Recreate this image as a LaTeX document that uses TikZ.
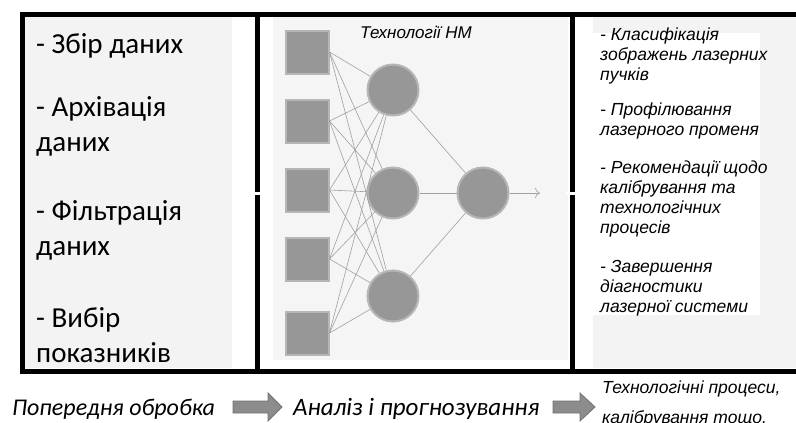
\documentclass[tikz,border=0pt]{standalone}
\usepackage{fontspec}
\setmainfont{Carlito}
\newfontfamily\arialfont{Liberation Sans}
\usetikzlibrary{positioning, arrows.meta}

\definecolor{panelgray}{HTML}{F3F3F3}
\definecolor{midgray}{HTML}{F5F5F5}
\definecolor{unitgray}{HTML}{979797}
\definecolor{unitedge}{HTML}{B6B6B6}
\definecolor{wiregray}{HTML}{A0A0A0}
\definecolor{arrowgray}{HTML}{8C8C8C}

\tikzset{
    frame/.style={line width=5pt},
    inbox/.style={rectangle, minimum size=43pt, inner sep=0pt, fill=unitgray, draw=unitedge, line width=2pt},
    hidbox/.style={circle, minimum size=51pt, inner sep=0pt, fill=unitgray, draw=unitedge, line width=2pt},
    wire/.style={wiregray, line width=0.6pt},
    leftitem/.style={anchor=base west, align=left, inner sep=0pt, font=\fontsize{29}{35}\selectfont},
    rightitem/.style={anchor=base west, align=left, inner sep=0pt, font=\arialfont\itshape\fontsize{17.5}{20}\selectfont},
    blockarr/.style={fill=arrowgray, draw=arrowgray!80!black, line width=0.8pt}
}

\begin{document}
\begin{tikzpicture}[x=1pt, y=-1pt]
        \useasboundingbox (0,0) rectangle (796,423);

        % Draw the panel backgrounds
        \fill[panelgray] (24,16) rectangle (232,368);
        \fill[midgray] (273,17) rectangle (568,360);
        \fill[panelgray] (593,16) rectangle (796,368);
        \fill[white] (593,33) rectangle (760,315);

        % Draw the frame and the two dividers
        \draw[frame] (796,14) -- (22,14) -- (22,371) -- (796,371);
        \draw[frame] (257,14) -- (257,371);
        \draw[frame] (572,14) -- (572,371);
        \foreach \x in {257, 572} {
            \draw[white, line width=3pt] ({\x-6},193) -- ({\x+6},193);
        }

        % Left panel: preprocessing steps (placed at the baseline of the last line)
        \node[leftitem] (l1) at (36,53) {- Збір даних};
        \node[leftitem] (l2) at (36,151) {- Архівація\\даних};
        \node[leftitem] (l3) at (36,255) {- Фільтрація\\даних};
        \node[leftitem] (l4) at (36,362) {- Вибір\\показників};

        % Middle panel: the network
        \node[font=\arialfont\itshape\fontsize{17}{20}\selectfont, anchor=base] (nmtitle) at (416,38) {Технології НМ};
        \foreach \i/\y in {1/52, 2/121, 3/190, 4/259, 5/333} {
            \node[inbox] (in\i) at (307,\y) {};
        }
        \foreach \j/\y in {1/90, 2/193, 3/296} {
            \node[hidbox] (h\j) at (393,\y) {};
        }
        \node[hidbox] (out) at (483,193) {};
        \coordinate (res) at (540,193);

        \foreach \i in {1,...,5} {
            \foreach \j in {1,2,3} {
                \draw[wire] (in\i.east) -- (h\j);
            }
        }
        \foreach \j in {1,2,3} {
            \draw[wire] (h\j) -- (out);
        }
        \draw[wire, -{To[length=5pt, width=10pt]}] (out) -- (res);

        % Right panel: results
        \node[rightitem] (r1) at (600,80) {- Класифікація\\зображень лазерних\\пучків};
        \node[rightitem] (r2) at (600,135) {- Профілювання\\лазерного променя};
        \node[rightitem] (r3) at (600,233) {- Рекомендації щодо\\калібрування та\\технологічних\\процесів};
        \node[rightitem] (r4) at (600,312) {- Завершення\\діагностики\\лазерної системи};

        % Bottom row: stages and block arrows
        \node[anchor=base west, inner sep=0pt, font=\itshape\fontsize{24}{30}\selectfont] (prep) at (12,415) {Попередня обробка};
        \node[anchor=base west, inner sep=0pt, font=\itshape\fontsize{25}{30}\selectfont] (anal) at (293,415) {Аналіз і прогнозування};
        \node[rightitem, font=\arialfont\itshape\fontsize{17.5}{30}\selectfont] (tech) at (602,423) {Технологічні процеси,\\калібрування тощо.};

        \foreach \ax/\shaft/\head in {233/35/14, 553/27/15} {
            \draw[blockarr] (\ax,401) -- ++(\shaft,0) -- ++(0,-8) -- ++(\head,14)
                -- ++(-\head,14) -- ++(0,-8) -- ++(-\shaft,0) -- cycle;
        }
    \end{tikzpicture}
\end{document}
